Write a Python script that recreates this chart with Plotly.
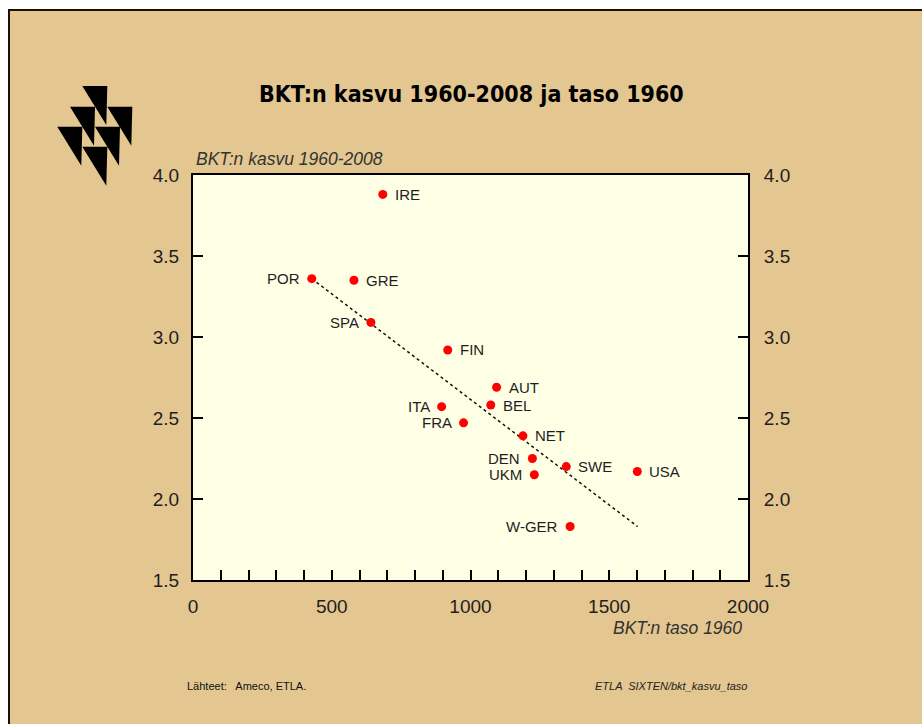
import plotly.graph_objects as go

# ---------------- data ----------------
countries = ["IRE", "POR", "GRE", "SPA", "FIN", "ITA", "FRA", "AUT", "BEL",
             "NET", "DEN", "UKM", "SWE", "USA", "W-GER"]
level_1960 = [684, 428, 580, 641, 918, 896, 975, 1094, 1073,
              1189, 1223, 1230, 1345, 1601, 1359]
growth = [3.88, 3.36, 3.35, 3.09, 2.92, 2.57, 2.47, 2.69, 2.58,
          2.39, 2.25, 2.15, 2.20, 2.17, 1.83]
label_side = ["right", "left", "right", "left", "right", "left", "left", "right", "right",
              "right", "left", "left", "right", "right", "left"]
trend_x = [428, 1602]
trend_y = [3.36, 1.83]
x_ticks = [0, 500, 1000, 1500, 2000]
y_ticks = [1.5, 2.0, 2.5, 3.0, 3.5, 4.0]

# ---------------- layout constants ----------------
W, H = 922, 724
L, R, T, B = 193, 748, 175, 580   # plot area in pixels
TAN = "#E3C690"
CREAM = "#FFFFE6"
TXT = "#1e1e1e"
FONT = "Liberation Sans, Arial, sans-serif"


def px(x):
    """pixel x -> paper coordinate"""
    return (x - L) / (R - L)


def py(y):
    """pixel y -> paper coordinate"""
    return (B - y) / (B - T)


fig = go.Figure()

fig.add_trace(go.Scatter(x=trend_x, y=trend_y, mode="lines",
                         line=dict(color="#111111", width=1.5, dash="dot"),
                         hoverinfo="skip", showlegend=False))
fig.add_trace(go.Scatter(x=level_1960, y=growth, mode="markers",
                         marker=dict(color="#FF0000", size=9),
                         text=countries, showlegend=False))
# invisible trace for right axis
fig.add_trace(go.Scatter(x=[level_1960[0]], y=[growth[0]], yaxis="y2", mode="markers",
                         marker=dict(opacity=0), hoverinfo="skip", showlegend=False))

annotations = []
for c, xv, yv, side in zip(countries, level_1960, growth, label_side):
    annotations.append(dict(
        x=xv, y=yv, xref="x", yref="y", text=c, showarrow=False,
        xanchor="left" if side == "right" else "right", yanchor="middle",
        xshift=10 if side == "right" else -10,
        font=dict(family=FONT, size=15, color=TXT)))

annotations += [
    dict(x=px(471), y=py(94), xref="paper", yref="paper",
         text="<b>BKT:n kasvu 1960-2008 ja taso 1960</b>", showarrow=False,
         xanchor="center", yanchor="middle",
         font=dict(family="DejaVu Sans Condensed, DejaVu Sans, sans-serif",
                   size=23, color="#000000")),
    dict(x=px(194), y=py(159), xref="paper", yref="paper",
         text="<i>BKT:n kasvu 1960-2008</i>", showarrow=False,
         xanchor="left", yanchor="middle",
         font=dict(family=FONT, size=17.5, color="#333333")),
    dict(x=px(744), y=py(628), xref="paper", yref="paper",
         text="<i>BKT:n taso 1960</i>", showarrow=False,
         xanchor="right", yanchor="middle",
         font=dict(family=FONT, size=17.5, color="#333333")),
    dict(x=px(185), y=py(686), xref="paper", yref="paper",
         text="Lähteet:   Ameco, ETLA.", showarrow=False,
         xanchor="left", yanchor="middle",
         font=dict(family=FONT, size=11, color="#111111")),
    dict(x=px(749), y=py(686), xref="paper", yref="paper",
         text="<i>ETLA  SIXTEN/bkt_kasvu_taso</i>", showarrow=False,
         xanchor="right", yanchor="middle",
         font=dict(family=FONT, size=11, color="#222222")),
]

shapes = []
# white page edge at top and left, with black border line
shapes.append(dict(type="rect", xref="paper", yref="paper",
                   x0=px(0), x1=px(W), y0=py(0), y1=py(9),
                   fillcolor="white", line=dict(width=0), layer="above"))
shapes.append(dict(type="rect", xref="paper", yref="paper",
                   x0=px(0), x1=px(8), y0=py(0), y1=py(H),
                   fillcolor="white", line=dict(width=0), layer="above"))
shapes.append(dict(type="line", xref="paper", yref="paper",
                   x0=px(8), x1=px(W), y0=py(10), y1=py(10),
                   line=dict(color="#1a1008", width=2), layer="above"))
shapes.append(dict(type="line", xref="paper", yref="paper",
                   x0=px(9), x1=px(9), y0=py(9), y1=py(H),
                   line=dict(color="#1a1008", width=2), layer="above"))

# logo: right triangles (top-left, top-right, bottom-right) in pixels
tri_tl = [(82.3, 86.0), (70.0, 106.7), (107.3, 106.7), (57.3, 126.7), (95.0, 126.7), (82.3, 146.7)]
tw, th = 25.0, 39.0
for (x0, y0) in tri_tl:
    path = "M {} {} L {} {} L {} {} Z".format(
        px(x0), py(y0), px(x0 + tw), py(y0), px(x0 + tw - 1), py(y0 + th))
    shapes.append(dict(type="path", xref="paper", yref="paper", path=path,
                       fillcolor="#000000", line=dict(width=0), layer="above"))

axis_common = dict(showgrid=False, zeroline=False, showline=True, linecolor="#000000",
                   linewidth=2, ticks="inside", ticklen=10, tickwidth=1.5,
                   tickcolor="#000000",
                   tickfont=dict(family=FONT, size=19, color=TXT))

fig.update_layout(
    width=W, height=H,
    margin=dict(l=L, r=W - R, t=T, b=H - B, autoexpand=False),
    paper_bgcolor=TAN, plot_bgcolor=CREAM,
    xaxis=dict(range=[0, 2000], tickvals=x_ticks, ticktext=[str(v) for v in x_ticks],
               mirror=True, ticklabelstandoff=8,
               minor=dict(dtick=100, tick0=0, ticks="inside", ticklen=10,
                          tickwidth=1.5, tickcolor="#000000"),
               **axis_common),
    yaxis=dict(range=[1.5, 4.0], tickvals=y_ticks, ticktext=["%.1f" % v for v in y_ticks],
               mirror=True, ticklabelstandoff=8, **axis_common),
    yaxis2=dict(range=[1.5, 4.0], tickvals=y_ticks, ticktext=["%.1f" % v for v in y_ticks],
                overlaying="y", side="right", ticklabelstandoff=10, **axis_common),
    annotations=annotations,
    shapes=shapes,
    showlegend=False,
)

fig.write_html("out.html",
               config={"displayModeBar": False},
               post_script="document.documentElement.style.overflow='hidden';"
                           "document.body.style.overflow='hidden';"
                           "document.body.style.margin='0';")
